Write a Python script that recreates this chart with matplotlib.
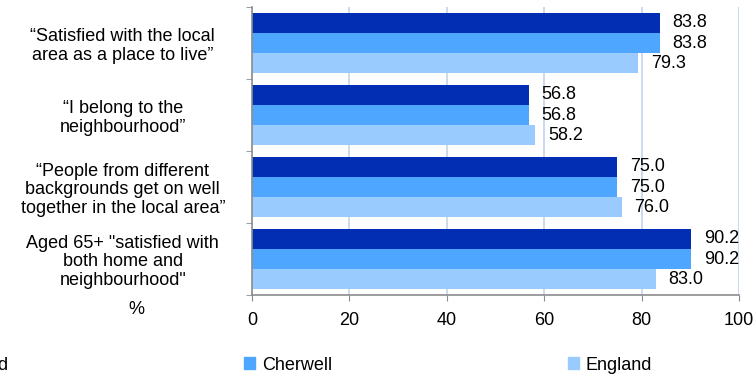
import numpy as np
import matplotlib
matplotlib.use("Agg")
import matplotlib.pyplot as plt
from matplotlib.patches import Patch

plt.rcParams["font.family"] = ["Liberation Sans", "DejaVu Sans"]

categories = [
    "\u201cSatisfied with the local\narea as a place to live\u201d",
    "\u201cI belong to the\nneighbourhood\u201d",
    "\u201cPeople from different\nbackgrounds get on well\ntogether in the local area\u201d",
    "Aged 65+ \"satisfied with\nboth home and\nneighbourhood\"",
]
series_names = ["Oxford", "Cherwell", "England"]
district = [83.8, 56.8, 75.0, 90.2]
cherwell = [83.8, 56.8, 75.0, 90.2]
england = [79.3, 58.2, 76.0, 83.0]
x_ticks = [0, 20, 40, 60, 80, 100]

colors = ["#012eb2", "#4fa6ff", "#99cbff"]
grid_color = "#c3d4ea"
axis_color = "#8c8c8c"
fs = 13

fig = plt.figure(figsize=(7.53, 3.76), dpi=100)
ax = fig.add_axes([252 / 753, 1 - 295 / 376, 487 / 753, 288 / 376])

y = np.arange(len(categories))
h = 0.278
for k, vals in enumerate([district, cherwell, england]):
    bars = ax.barh(y + (k - 1) * h, vals, height=h, color=colors[k],
                   label=series_names[k], zorder=2)
    ax.bar_label(bars, fmt="%.1f", padding=9, fontsize=fs)

ax.set_xlim(0, 100)
ax.set_ylim(len(categories) - 0.5, -0.5)
ax.set_xticks(x_ticks)
ax.tick_params(axis="x", length=4, color=axis_color, labelsize=fs, pad=8.5)
ax.grid(axis="x", color=grid_color, linewidth=1.2, zorder=0)

# labels at group centres, tick marks on the group boundaries
ax.set_yticks(y)
ax.set_yticklabels(categories, ha="center", fontsize=fs, linespacing=1.12)
ax.tick_params(axis="y", which="major", length=0, pad=93)
ax.set_yticks(np.arange(len(categories) + 1) - 0.5, minor=True)
ax.tick_params(axis="y", which="minor", length=4, color=axis_color)

for side in ("top", "right"):
    ax.spines[side].set_visible(False)
for side in ("left", "bottom"):
    ax.spines[side].set_color(axis_color)
    ax.spines[side].set_linewidth(1.2)

fig.text(136 / 753, 1 - 309 / 376, "%", ha="center", va="center", fontsize=fs)

handles = [Patch(color=c) for c in colors]
em = fs * 100 / 72
fig.legend(handles, series_names, loc="center right",
           bbox_to_anchor=(652 / 753, 1 - 365 / 376), ncol=3, frameon=False,
           fontsize=fs, handlelength=10.7 / em, handleheight=10.7 / em,
           handletextpad=7 / em, columnspacing=236 / em,
           borderpad=0, borderaxespad=0)

fig.savefig("out.png", dpi=100)
